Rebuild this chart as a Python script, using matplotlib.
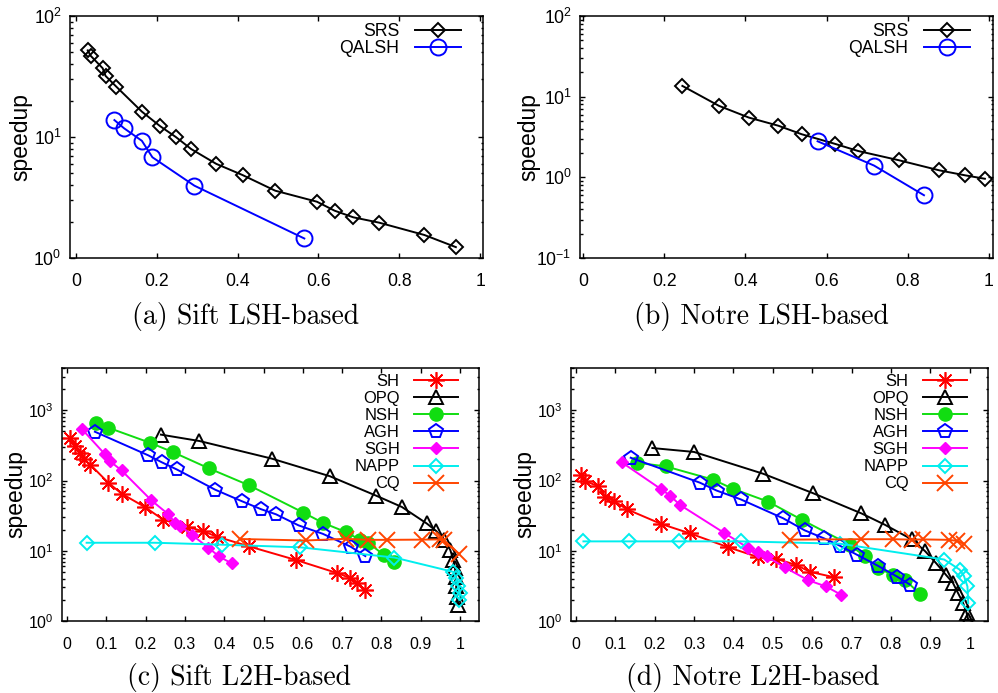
import matplotlib.pyplot as plt
from matplotlib.ticker import LogLocator, NullFormatter, MultipleLocator, FuncFormatter

plt.rcParams['font.family'] = ['Liberation Sans', 'DejaVu Sans']

# (a) Sift, LSH-based
sift_srs_recall = [0.029, 0.036, 0.066, 0.073, 0.100, 0.163, 0.208, 0.247, 0.285, 0.347,
                   0.412, 0.493, 0.596, 0.640, 0.686, 0.750, 0.862, 0.940]
sift_srs_speedup = [52, 47, 37, 32, 26, 16.2, 12.3, 10.0, 7.95, 6.0,
                    4.85, 3.6, 2.92, 2.46, 2.17, 1.96, 1.55, 1.23]
sift_qalsh_recall = [0.095, 0.119, 0.163, 0.189, 0.293, 0.565]
sift_qalsh_speedup = [13.8, 11.8, 9.3, 6.8, 3.96, 1.45]

# (b) Notre, LSH-based
notre_srs_recall = [0.245, 0.335, 0.409, 0.481, 0.539, 0.621, 0.678, 0.778, 0.878, 0.941, 0.990]
notre_srs_speedup = [13.6, 7.7, 5.5, 4.37, 3.42, 2.6, 2.12, 1.63, 1.22, 1.06, 0.96]
notre_qalsh_recall = [0.578, 0.717, 0.840]
notre_qalsh_speedup = [2.8, 1.40, 0.60]

# (c) Sift, L2H-based
sift_sh_recall = [0.008, 0.020, 0.033, 0.043, 0.059, 0.105, 0.139, 0.198, 0.245, 0.306,
                  0.347, 0.381, 0.464, 0.582, 0.688, 0.720, 0.737, 0.758]
sift_sh_speedup = [407, 309, 248, 200, 169, 93, 65, 42, 27.6, 22,
                   18.9, 15.9, 11.5, 7.4, 4.8, 4.1, 3.5, 2.8]
sift_opq_recall = [0.239, 0.337, 0.521, 0.669, 0.786, 0.852, 0.915, 0.940, 0.958, 0.975,
                   0.983, 0.987, 0.990, 0.990, 0.992, 0.996]
sift_opq_speedup = [450, 365, 205, 115, 61, 42, 24.5, 19, 14.4, 10.3,
                    7.4, 5.6, 4.3, 3.1, 2.2, 1.7]
sift_nsh_recall = [0.074, 0.105, 0.211, 0.270, 0.361, 0.464, 0.601, 0.651, 0.709, 0.745,
                   0.767, 0.806, 0.833]
sift_nsh_speedup = [667, 565, 345, 253, 149, 85, 35, 25, 18.5, 14.4, 13, 8.7, 7.0]
sift_agh_recall = [0.071, 0.207, 0.241, 0.279, 0.377, 0.444, 0.494, 0.532, 0.589, 0.651,
                   0.722, 0.759]
sift_agh_speedup = [495, 228, 182, 144, 74, 51, 39, 33, 23, 17.4, 11.4, 8.4]
sift_sgh_recall = [0.037, 0.097, 0.109, 0.139, 0.215, 0.258, 0.275, 0.287, 0.317, 0.360,
                   0.387, 0.419]
sift_sgh_speedup = [548, 235, 189, 139, 52, 33, 25, 22.8, 17, 11, 8.3, 6.6]
sift_napp_recall = [0.050, 0.224, 0.394, 0.593, 0.833, 0.983, 0.990, 0.995, 1.000, 0.998]
sift_napp_speedup = [13, 13, 12.2, 11.2, 8.0, 5.0, 4.1, 3.1, 2.5, 2.0]
sift_cq_recall = [0.440, 0.607, 0.709, 0.766, 0.813, 0.903, 0.948, 0.958, 0.998]
sift_cq_speedup = [14.7, 14.0, 14.8, 14.3, 14.3, 14.4, 14.5, 14.0, 9.0]

# (d) Notre, L2H-based
notre_sh_recall = [0.014, 0.023, 0.057, 0.075, 0.097, 0.129, 0.217, 0.289, 0.385, 0.463,
                   0.508, 0.558, 0.595, 0.655]
notre_sh_speedup = [118, 98, 83, 58, 51, 39, 24, 17.7, 11.3, 8.1, 7.7, 6.3, 5.0, 4.2]
notre_opq_recall = [0.194, 0.300, 0.475, 0.602, 0.725, 0.784, 0.853, 0.887, 0.915, 0.940,
                    0.957, 0.970, 0.983, 0.992, 0.996]
notre_opq_speedup = [290, 255, 125, 66, 34, 23.5, 14.5, 9.8, 6.6, 4.5, 3.5, 2.5, 1.8, 1.3, 1.05]
notre_nsh_recall = [0.154, 0.228, 0.348, 0.399, 0.488, 0.574, 0.695, 0.734, 0.767, 0.805,
                    0.835, 0.873]
notre_nsh_speedup = [179, 159, 103, 76, 50, 27.5, 12.2, 8.3, 5.7, 4.5, 3.85, 2.45]
notre_agh_recall = [0.139, 0.315, 0.357, 0.418, 0.526, 0.581, 0.630, 0.670, 0.713, 0.767,
                    0.815, 0.848]
notre_agh_speedup = [211, 93, 72, 54, 29, 19.5, 15, 11.8, 8.8, 6.1, 4.3, 3.3]
notre_sgh_recall = [0.116, 0.215, 0.239, 0.264, 0.376, 0.437, 0.463, 0.484, 0.530, 0.590,
                    0.635, 0.674]
notre_sgh_speedup = [182, 76, 61, 45, 18, 11, 9.5, 8.3, 5.8, 3.8, 3.1, 2.35]
notre_napp_recall = [0.019, 0.135, 0.261, 0.418, 0.670, 0.935, 0.974, 0.985, 0.994, 0.996]
notre_napp_speedup = [13.6, 13.6, 13.6, 13.6, 12.6, 7.5, 5.4, 4.4, 3.1, 1.8]
notre_cq_recall = [0.543, 0.725, 0.806, 0.852, 0.882, 0.947, 0.968, 0.985]
notre_cq_speedup = [14.4, 14.6, 14.6, 14.4, 14.5, 14.3, 13.8, 12.5]

captions = ['(a) Sift LSH-based', '(b) Notre LSH-based',
            '(c) Sift L2H-based', '(d) Notre L2H-based']

GREEN = '#11dd11'
CYAN = '#00eeee'
ORANGE = '#ff4500'
ASTER = (8, 2, 0)


def style_axes(ax, xlim, ylim, xstep, tick_size, label_x, xpad):
    ax.set_yscale('log')
    ax.set_xlim(*xlim)
    ax.set_ylim(*ylim)
    ax.xaxis.set_major_locator(MultipleLocator(xstep))
    ax.xaxis.set_major_formatter(FuncFormatter(lambda v, p: f'{v:g}'))
    ax.yaxis.set_major_locator(LogLocator(base=10, numticks=10))
    ax.yaxis.set_minor_locator(LogLocator(base=10, subs=range(2, 10), numticks=10))
    ax.yaxis.set_minor_formatter(NullFormatter())
    ax.tick_params(which='both', direction='in', top=True, right=True,
                   labelsize=tick_size, width=1)
    ax.tick_params(which='major', length=3.6)
    ax.tick_params(which='minor', length=1.8)
    ax.tick_params(axis='x', pad=xpad)
    ax.tick_params(axis='y', pad=6)
    for s in ax.spines.values():
        s.set_linewidth(1.1)
    ax.set_ylabel('speedup', fontsize=16.5)
    ax.yaxis.set_label_coords(label_x, 0.5)


fig = plt.figure(figsize=(9.98, 6.93), dpi=100)
ax_a = fig.add_axes([0.0701, 0.6277, 0.4138, 0.3492])
ax_b = fig.add_axes([0.5812, 0.6277, 0.4138, 0.3492])
ax_c = fig.add_axes([0.0621, 0.1039, 0.4178, 0.3651])
ax_d = fig.add_axes([0.5721, 0.1039, 0.4178, 0.3651])

# top row: LSH-based
for ax, srs_x, srs_y, q_x, q_y in [(ax_a, sift_srs_recall, sift_srs_speedup, sift_qalsh_recall, sift_qalsh_speedup),
                                   (ax_b, notre_srs_recall, notre_srs_speedup, notre_qalsh_recall, notre_qalsh_speedup)]:
    ax.plot(srs_x, srs_y, color='black', lw=1.4, marker='D', ms=7.6, mfc='none', mew=1.4, label='SRS')
    ax.plot(q_x, q_y, color='#0000ff', lw=1.4, marker='o', ms=11.5, mfc='none', mew=1.4, label='QALSH')

style_axes(ax_a, (-0.015, 1.007), (1, 100), 0.2, 12.7, -0.09, 11)
style_axes(ax_b, (-0.007, 1.01), (0.1, 100), 0.2, 12.7, -0.097, 11)
for ax, bx in [(ax_a, 0.947), (ax_b, 0.944)]:
    ax.legend(loc='upper right', bbox_to_anchor=(bx, 0.972), frameon=False, markerfirst=False,
              fontsize=12.7, handlelength=2.6, handletextpad=0.9, labelspacing=0.0,
              borderpad=0, borderaxespad=0)

# bottom row: L2H-based
sift_series = [sift_sh_recall, sift_sh_speedup, sift_opq_recall, sift_opq_speedup,
               sift_nsh_recall, sift_nsh_speedup, sift_agh_recall, sift_agh_speedup,
               sift_sgh_recall, sift_sgh_speedup, sift_napp_recall, sift_napp_speedup,
               sift_cq_recall, sift_cq_speedup]
notre_series = [notre_sh_recall, notre_sh_speedup, notre_opq_recall, notre_opq_speedup,
                notre_nsh_recall, notre_nsh_speedup, notre_agh_recall, notre_agh_speedup,
                notre_sgh_recall, notre_sgh_speedup, notre_napp_recall, notre_napp_speedup,
                notre_cq_recall, notre_cq_speedup]
styles = [dict(label='SH', color='#ff0000', marker=ASTER, ms=12, mew=1.2),
          dict(label='OPQ', color='black', marker='^', ms=9.5, mfc='none', mew=1.4),
          dict(label='NSH', color=GREEN, marker='o', ms=9.5),
          dict(label='AGH', color='#0000ff', marker='p', ms=10, mfc='none', mew=1.4),
          dict(label='SGH', color='#ff00ff', marker='D', ms=6.4),
          dict(label='NAPP', color=CYAN, marker='D', ms=7.4, mfc='none', mew=1.4),
          dict(label='CQ', color=ORANGE, marker='x', ms=12, mew=1.4)]

for ax, series in [(ax_c, sift_series), (ax_d, notre_series)]:
    for i, st in enumerate(styles):
        ax.plot(series[2 * i], series[2 * i + 1], lw=1.4, **st)

style_axes(ax_c, (-0.0127, 1.048), (1, 4000), 0.1, 11.5, -0.082, 11.5)
style_axes(ax_d, (-0.0127, 1.046), (1, 4000), 0.1, 11.5, -0.084, 11.5)
for ax, bx in [(ax_c, 0.9496), (ax_d, 0.949)]:
    ax.legend(loc='upper right', bbox_to_anchor=(bx, 0.978), frameon=False, markerfirst=False,
              fontsize=11.9, handlelength=2.67, handletextpad=0.85, labelspacing=0.13,
              borderpad=0, borderaxespad=0)

# captions
for (cx, cy), txt in zip([(0.2465, 0.544), (0.7625, 0.544), (0.239, 0.023), (0.754, 0.023)], captions):
    fig.text(cx, cy, txt, family='cmr10', fontsize=20, ha='center', va='center')

fig.savefig('out.png', dpi=100)
